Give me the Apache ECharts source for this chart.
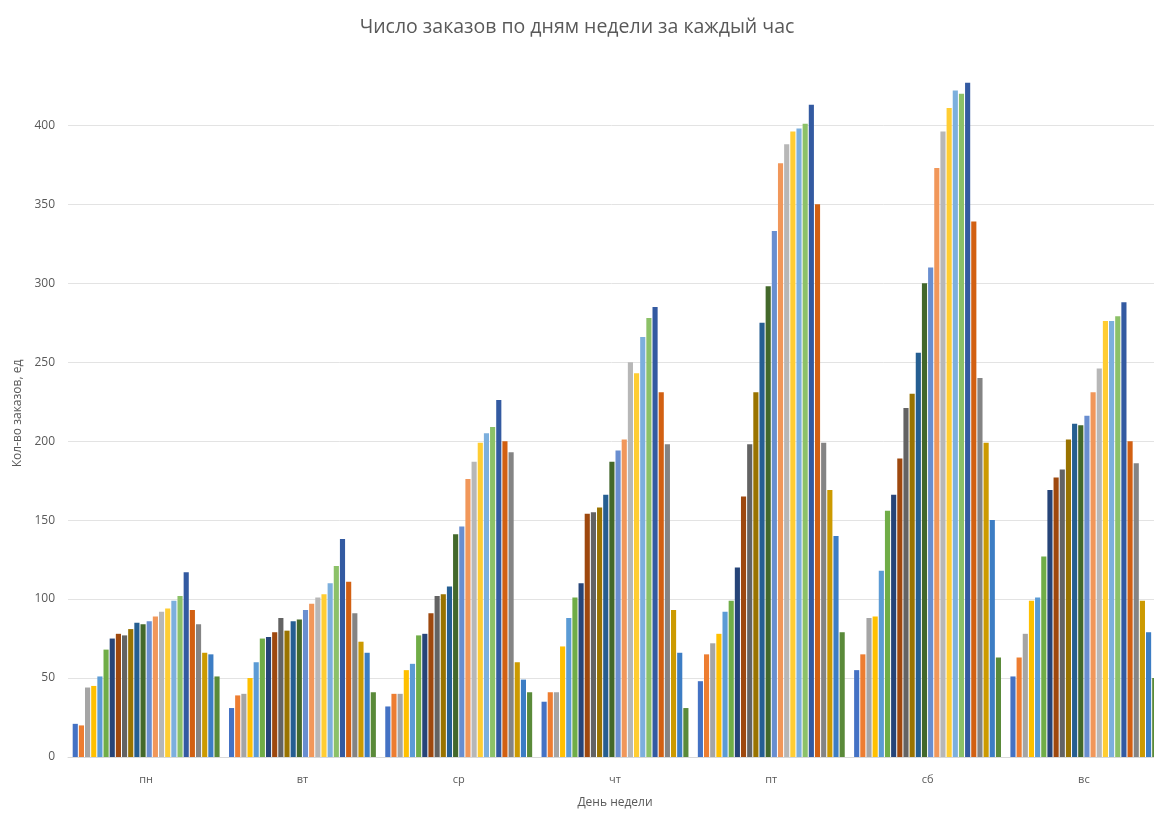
<!DOCTYPE html>
<html>
<head>
<meta charset="utf-8">
<title>Число заказов по дням недели за каждый час</title>
<script src="https://cdn.jsdelivr.net/npm/echarts@6/dist/echarts.min.js"></script>
<style>
  html, body { margin: 0; padding: 0; background: #ffffff; }
  #chart { width: 1154px; height: 814px; }
</style>
</head>
<body>
<div id="chart"></div>
<script>
// Days of the week (categories)
const days = ['пн', 'вт', 'ср', 'чт', 'пт', 'сб', 'вс'];

// Hours of the day (one bar series per hour)
const hours = ['0', '1', '2', '3', '4', '5', '6', '7', '8', '9', '10', '11',
               '12', '13', '14', '15', '16', '17', '18', '19', '20', '21', '22', '23'];

// Orders per hour, one array per day (24 values, hour 0..23)
const ordersMon = [21, 20, 44, 45, 51, 68, 75, 78, 77, 81, 85, 84, 86, 89, 92, 94, 99, 102, 117, 93, 84, 66, 65, 51];
const ordersTue = [31, 39, 40, 50, 60, 75, 76, 79, 88, 80, 86, 87, 93, 97, 101, 103, 110, 121, 138, 111, 91, 73, 66, 41];
const ordersWed = [32, 40, 40, 55, 59, 77, 78, 91, 102, 103, 108, 141, 146, 176, 187, 199, 205, 209, 226, 200, 193, 60, 49, 41];
const ordersThu = [35, 41, 41, 70, 88, 101, 110, 154, 155, 158, 166, 187, 194, 201, 250, 243, 266, 278, 285, 231, 198, 93, 66, 31];
const ordersFri = [48, 65, 72, 78, 92, 99, 120, 165, 198, 231, 275, 298, 333, 376, 388, 396, 398, 401, 413, 350, 199, 169, 140, 79];
const ordersSat = [55, 65, 88, 89, 118, 156, 166, 189, 221, 230, 256, 300, 310, 373, 396, 411, 422, 420, 427, 339, 240, 199, 150, 63];
const ordersSun = [51, 63, 78, 99, 101, 127, 169, 177, 182, 201, 211, 210, 216, 231, 246, 276, 276, 279, 288, 200, 186, 99, 79, 50];

// Y axis ticks
const yTicks = [0, 50, 100, 150, 200, 250, 300, 350, 400];

// Office-style palette, one colour per hour
const palette = [
  '#4472C4', '#ED7D31', '#A5A5A5', '#FFC000', '#5B9BD5', '#70AD47',
  '#264478', '#9E480E', '#636363', '#997300', '#255E91', '#43682B',
  '#698ED0', '#F1975A', '#B7B7B7', '#FFCD33', '#7CAFDD', '#8CC168',
  '#335AA1', '#D26012', '#848484', '#CC9A00', '#3C7DC4', '#5A8A39'
];

const byDay = [ordersMon, ordersTue, ordersWed, ordersThu, ordersFri, ordersSat, ordersSun];

const series = hours.map((h, i) => ({
  name: h,
  type: 'bar',
  data: byDay.map(d => d[i]),
  barGap: '20%',
  barCategoryGap: '6%',
  itemStyle: { color: palette[i] }
}));

const textColor = '#595959';
const fontFamily = '"Open Sans", "Noto Sans", sans-serif';

const chart = echarts.init(document.getElementById('chart'), null, { renderer: 'canvas' });
chart.setOption({
  animation: false,
  backgroundColor: '#ffffff',
  color: palette,
  title: {
    text: 'Число заказов по дням недели за каждый час',
    left: 'center',
    top: 12,
    textStyle: { color: textColor, fontSize: 19.5, fontWeight: 'normal', fontFamily: fontFamily }
  },
  // plot area runs a little past the right edge of the canvas
  grid: { left: 68, top: 70, width: 1094, height: 687, containLabel: false, outerBoundsMode: 'none' },
  xAxis: {
    type: 'category',
    data: days,
    name: 'День недели',
    nameLocation: 'middle',
    nameGap: 40,
    nameTextStyle: { color: textColor, fontSize: 12, fontFamily: fontFamily },
    axisLine: { lineStyle: { color: '#D9D9D9', width: 1 } },
    axisTick: { show: false },
    axisLabel: { color: textColor, fontSize: 11, margin: 17, fontFamily: fontFamily }
  },
  yAxis: {
    type: 'value',
    min: yTicks[0],
    max: 435,
    interval: yTicks[1] - yTicks[0],
    name: 'Кол-во заказов, ед',
    nameLocation: 'middle',
    nameGap: 44,
    nameTextStyle: { color: textColor, fontSize: 12, fontFamily: fontFamily },
    axisLine: { show: false },
    axisTick: { show: false },
    axisLabel: {
      color: textColor, fontSize: 12, margin: 13, fontFamily: fontFamily,
      showMaxLabel: false,
      formatter: v => (yTicks.indexOf(v) >= 0 ? String(v) : '')
    },
    splitLine: { show: true, showMaxLine: false, lineStyle: { color: '#E3E3E3', width: 1 } }
  },
  series: series
});
</script>
</body>
</html>
